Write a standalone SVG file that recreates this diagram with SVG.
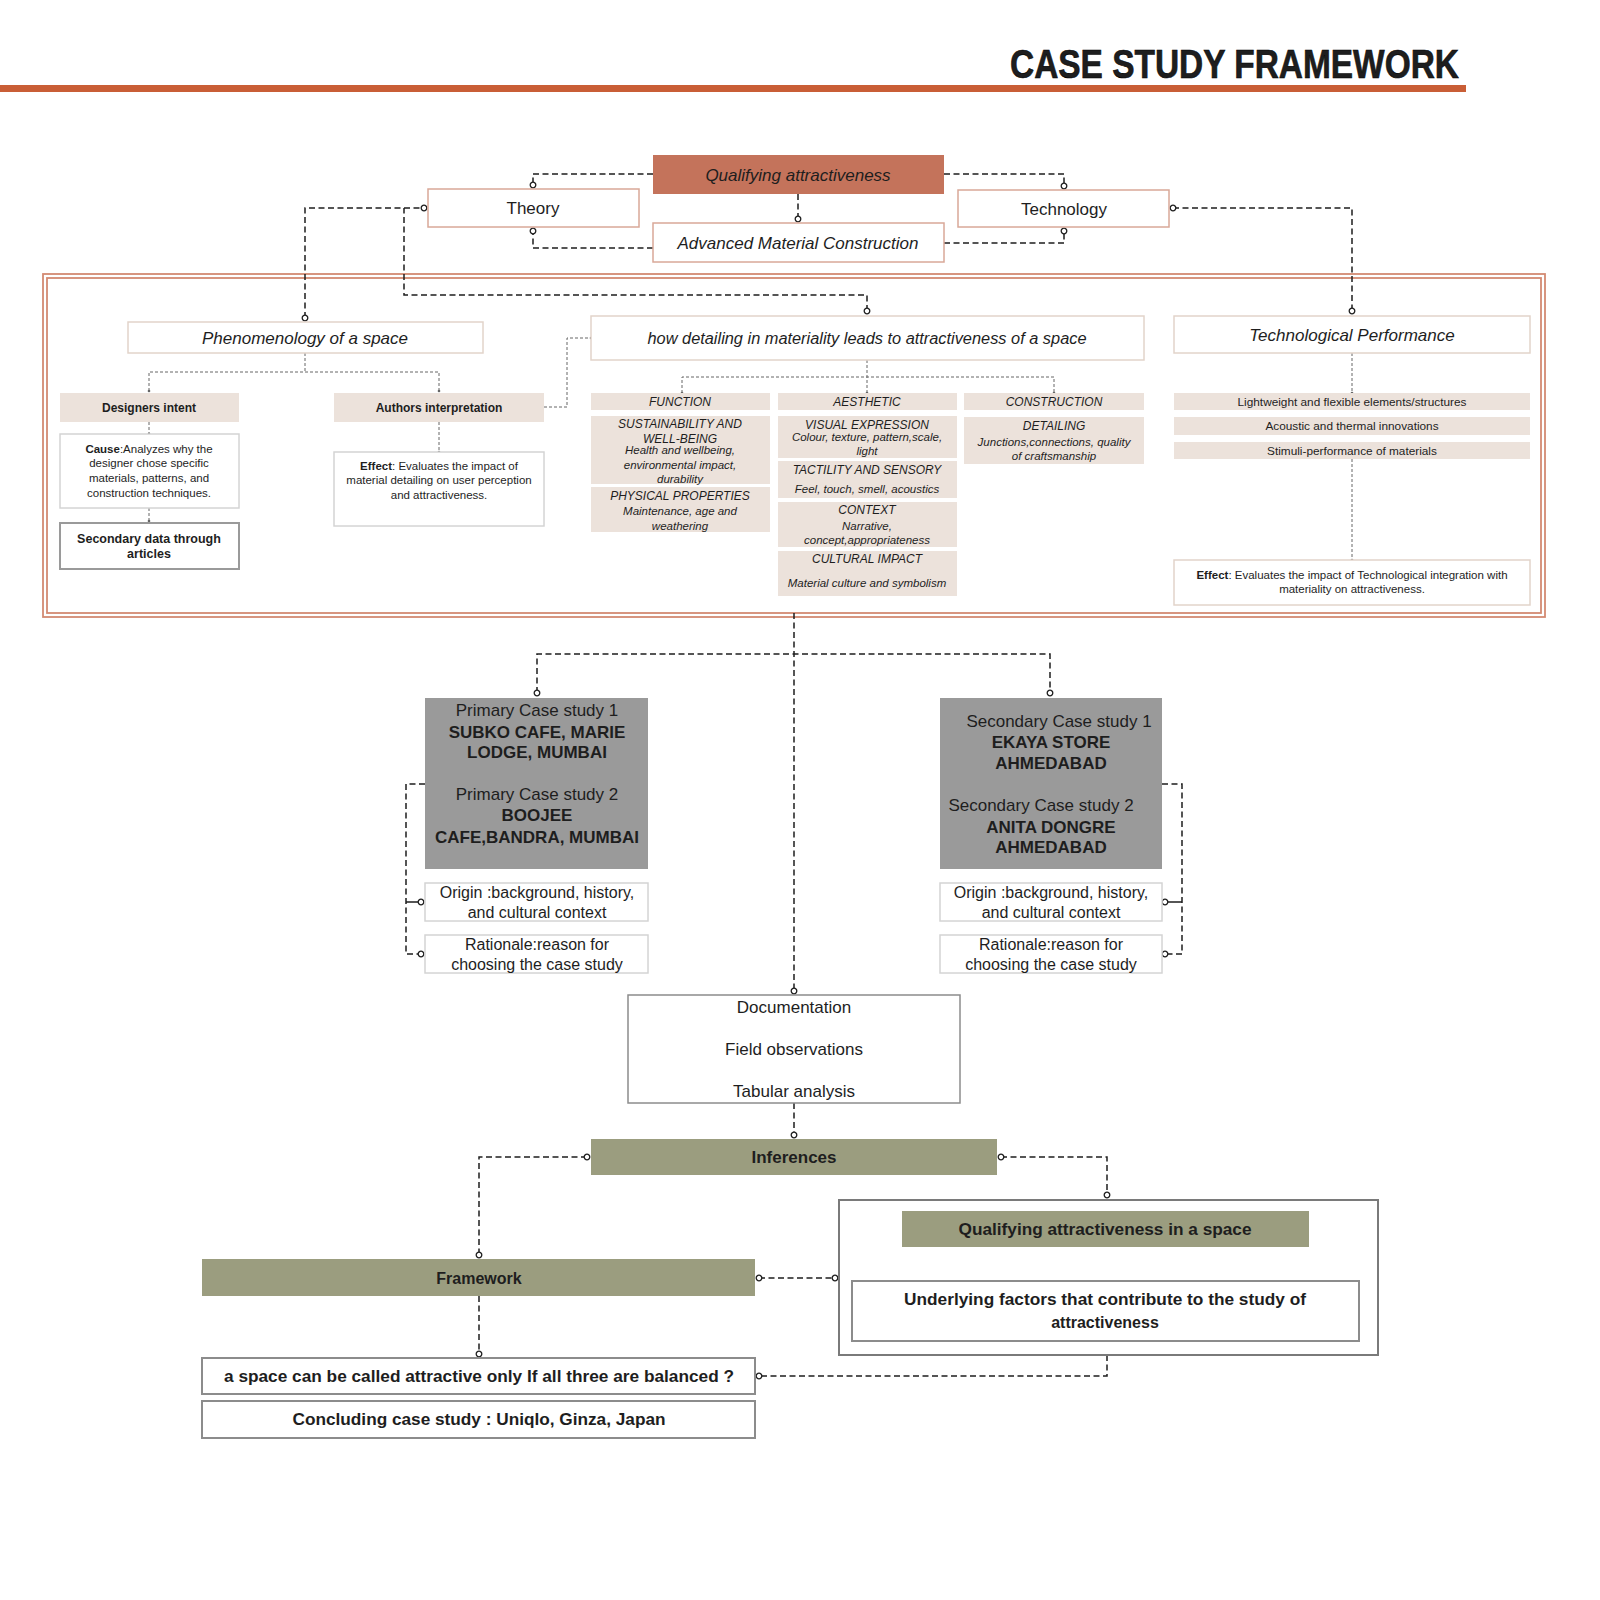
<svg xmlns="http://www.w3.org/2000/svg" width="1600" height="1600" viewBox="0 0 1600 1600">
<style>
text{font-family:"Liberation Sans",Arial,sans-serif;fill:#1e1e1e;text-anchor:middle}
.it{font-style:italic}
.b{font-weight:bold}
.f17{font-size:17px}
.f16{font-size:16px}
.f12{font-size:12px}
.f11{font-size:11.5px}
.box{fill:#fff;stroke:#d9a898;stroke-width:1.5}
.lbox{fill:#fff;stroke:#e2d4ca;stroke-width:1.5}
.gbox{fill:#fff;stroke:#d4d4d4;stroke-width:1.5}
.dbox{fill:#fff;stroke:#8c8c8c;stroke-width:2}
.beige{fill:#ece2db}
.olive{fill:#9b9d7f}
.grey{fill:#9a9a9a}
.frame{fill:none;stroke:#d38a72;stroke-width:1.8}
.dash{fill:none;stroke:#1e1e1e;stroke-width:1.5;stroke-dasharray:6 3.5}
.dot{fill:none;stroke:#666;stroke-width:1;stroke-dasharray:3 2}
.lgdash{fill:none;stroke:#999;stroke-width:1.3;stroke-dasharray:5 3}
.solid{fill:none;stroke:#1e1e1e;stroke-width:1.5}
</style>
<defs>
<marker id="o" viewBox="-4 -4 8 8" refX="0" refY="0" markerWidth="8" markerHeight="8" markerUnits="userSpaceOnUse">
<circle cx="0" cy="0" r="2.8" fill="#fff" stroke="#1e1e1e" stroke-width="1.3" stroke-dasharray="none"/>
</marker>
<marker id="og" viewBox="-4 -4 8 8" refX="0" refY="0" markerWidth="8" markerHeight="8" markerUnits="userSpaceOnUse">
<circle cx="0" cy="0" r="2.8" fill="#fff" stroke="#888" stroke-width="1.2" stroke-dasharray="none"/>
</marker>
<marker id="d" viewBox="-2 -2 4 4" refX="0" refY="0" markerWidth="4" markerHeight="4" markerUnits="userSpaceOnUse">
<circle cx="0" cy="0" r="1.3" fill="#666"/>
</marker>
</defs>

<g id="header">
<text x="1459" y="78" class="b" style="font-size:40px;text-anchor:end;stroke:#000;stroke-width:0.6" textLength="449" lengthAdjust="spacingAndGlyphs">CASE STUDY FRAMEWORK</text>
<rect x="0" y="85" width="1466" height="7" fill="#c95e36"/>
</g>

<g id="frame">
<rect class="frame" x="43" y="274" width="1502" height="343"/>
<rect class="frame" x="47" y="278" width="1494" height="335"/>
</g>

<g id="connectors">
<path class="dash" d="M653,174 H533 V185" marker-end="url(#o)"/>
<path class="dash" d="M944,174 H1064 V186" marker-end="url(#o)"/>
<path class="dash" d="M798,194 V219" marker-end="url(#o)"/>
<path class="dash" d="M653,248 H533 V231" marker-end="url(#o)"/>
<path class="dash" d="M944,243 H1064 V231" marker-end="url(#o)"/>
<path class="dash" d="M305,318 V208 H424" marker-start="url(#o)" marker-end="url(#o)"/>
<path class="dash" d="M867,311 V295 H404 V208" marker-start="url(#o)"/>
<path class="dash" d="M1173,208 H1352 V311" marker-start="url(#o)" marker-end="url(#o)"/>

<path class="dot" d="M305,353 V372"/>
<path class="dot" d="M149,391 V372 H439 V391" marker-start="url(#d)" marker-end="url(#d)"/>
<path class="dot" d="M149,422 V434" marker-end="url(#d)"/>
<path class="dot" d="M149,508 V521" marker-end="url(#d)"/>
<path class="dot" d="M439,422 V452" marker-end="url(#d)"/>
<path class="dot" d="M544,407 H567 V338 H591" marker-end="url(#d)"/>
<path class="dot" d="M867,360 V393" marker-end="url(#d)"/>
<path class="dot" d="M682,393 V377 H1054 V393" marker-start="url(#d)" marker-end="url(#d)"/>
<path class="dot" d="M1352,353 V393" marker-end="url(#d)"/>
<path class="dot" d="M1352,459 V560" marker-end="url(#d)"/>

<path class="dash" d="M794,613 V991" marker-end="url(#o)"/>
<path class="dash" d="M537,693 V654 H1050 V693" marker-start="url(#o)" marker-end="url(#o)"/>
<path class="dash" d="M425,784 H406 V954 H421" marker-end="url(#o)"/>
<path class="solid" d="M406,902 H421" marker-end="url(#o)"/>
<path class="dash" d="M1162,784 H1182 V954 H1165" marker-end="url(#o)"/>
<path class="solid" d="M1182,902 H1165" marker-end="url(#o)"/>
<path class="dash" d="M794,1103 V1135" marker-end="url(#o)"/>
<path class="dash" d="M587,1157 H479 V1255" marker-start="url(#o)" marker-end="url(#o)"/>
<path class="dash" d="M1001,1157 H1107 V1195" marker-start="url(#o)" marker-end="url(#o)"/>
<path class="lgdash" d="M1105,1247 V1276" marker-end="url(#og)"/>
<path class="dash" d="M759,1278 H835" marker-start="url(#o)" marker-end="url(#o)"/>
<path class="dash" d="M479,1296 V1354" marker-end="url(#o)"/>
<path class="dash" d="M1107,1355 V1376 H759" marker-end="url(#o)"/>
</g>

<g id="qualifying">
<rect x="653" y="155" width="291" height="39" fill="#c4735b"/>
<text x="798" y="180.5" class="it f17">Qualifying  attractiveness</text>
</g>
<g id="theory">
<rect class="box" x="428" y="189" width="211" height="38"/>
<text x="533" y="214" class="f17">Theory</text>
</g>
<g id="technology">
<rect class="box" x="958" y="190" width="211" height="37"/>
<text x="1064" y="214.5" class="f17">Technology</text>
</g>
<g id="amc">
<rect class="box" x="653" y="223" width="291" height="39"/>
<text x="798" y="248.5" class="it f17">Advanced Material Construction</text>
</g>

<g id="phenomenology">
<rect class="lbox" x="128" y="322" width="355" height="31"/>
<text x="305" y="343.5" class="it f17">Phenomenology of a space</text>
</g>
<g id="designers-intent">
<rect class="beige" x="60" y="393" width="179" height="29"/>
<text x="149" y="412" class="b f12">Designers intent</text>
</g>
<g id="authors-interpretation">
<rect class="beige" x="334" y="393" width="210" height="29"/>
<text x="439" y="412" class="b f12">Authors interpretation</text>
</g>
<g id="cause">
<rect class="gbox" x="60" y="434" width="179" height="74"/>
<text x="149" y="453" style="font-size:11.5px"><tspan class="b">Cause</tspan>:Analyzes why the</text>
<text x="149" y="467" style="font-size:11.5px">designer chose specific</text>
<text x="149" y="482" style="font-size:11.5px">materials, patterns, and</text>
<text x="149" y="497" style="font-size:11.5px">construction techniques.</text>
</g>
<g id="secondary-data">
<rect x="60" y="523" width="179" height="46" fill="#fff" stroke="#9a9a9a" stroke-width="2"/>
<text x="149" y="542.5" class="b" style="font-size:12.5px">Secondary data through</text>
<text x="149" y="557.5" class="b" style="font-size:12.5px">articles</text>
</g>
<g id="effect-authors">
<rect class="gbox" x="334" y="452" width="210" height="74"/>
<text x="439" y="470" style="font-size:11.5px"><tspan class="b">Effect</tspan>: Evaluates the impact of</text>
<text x="439" y="484" style="font-size:11.5px">material detailing on user perception</text>
<text x="439" y="499" style="font-size:11.5px">and attractiveness.</text>
</g>

<g id="detailing">
<rect class="lbox" x="591" y="316" width="553" height="44"/>
<text x="867" y="344" class="it f16" textLength="439" lengthAdjust="spacingAndGlyphs">how detailing in materiality  leads to attractiveness of a space</text>
</g>
<g id="function">
<rect class="beige" x="591" y="393" width="179" height="17"/>
<text x="680" y="406" class="it f12">FUNCTION</text>
</g>
<g id="aesthetic">
<rect class="beige" x="778" y="393" width="179" height="17"/>
<text x="867" y="406" class="it f12">AESTHETIC</text>
</g>
<g id="construction">
<rect class="beige" x="964" y="393" width="180" height="17"/>
<text x="1054" y="406" class="it f12">CONSTRUCTION</text>
</g>
<g id="sustainability">
<rect class="beige" x="591" y="416" width="179" height="68"/>
<text x="680" y="427.5" class="it f12">SUSTAINABILITY AND</text>
<text x="680" y="443" class="it f12">WELL-BEING</text>
<text x="680" y="454" class="it f11">Health and wellbeing,</text>
<text x="680" y="469" class="it f11">environmental impact,</text>
<text x="680" y="482.5" class="it f11">durability</text>
</g>
<g id="physical">
<rect class="beige" x="591" y="487" width="179" height="45"/>
<text x="680" y="500" class="it f12">PHYSICAL PROPERTIES</text>
<text x="680" y="515" class="it f11">Maintenance, age and</text>
<text x="680" y="529.5" class="it f11">weathering</text>
</g>
<g id="visual">
<rect class="beige" x="778" y="416" width="179" height="42"/>
<text x="867" y="428.5" class="it f12">VISUAL EXPRESSION</text>
<text x="867" y="441" class="it f11">Colour, texture, pattern,scale,</text>
<text x="867" y="455" class="it f11">light</text>
</g>
<g id="tactility">
<rect class="beige" x="778" y="461" width="179" height="37"/>
<text x="867" y="474" class="it f12">TACTILITY AND SENSORY</text>
<text x="867" y="493" class="it f11">Feel, touch, smell, acoustics</text>
</g>
<g id="context">
<rect class="beige" x="778" y="502" width="179" height="45"/>
<text x="867" y="514" class="it f12">CONTEXT</text>
<text x="867" y="529.5" class="it f11">Narrative,</text>
<text x="867" y="544" class="it f11">concept,appropriateness</text>
</g>
<g id="cultural">
<rect class="beige" x="778" y="551" width="179" height="45"/>
<text x="867" y="563" class="it f12">CULTURAL IMPACT</text>
<text x="867" y="586.5" class="it f11">Material culture and symbolism</text>
</g>
<g id="detailing-sub">
<rect class="beige" x="964" y="417" width="180" height="47"/>
<text x="1054" y="429.5" class="it f12">DETAILING</text>
<text x="1054" y="446" class="it f11">Junctions,connections, quality</text>
<text x="1054" y="460" class="it f11">of craftsmanship</text>
</g>

<g id="tech-performance">
<rect class="lbox" x="1174" y="316" width="356" height="37"/>
<text x="1352" y="340.5" class="it f17">Technological Performance</text>
</g>
<g id="lightweight">
<rect class="beige" x="1174" y="393" width="356" height="17"/>
<text x="1352" y="405.5" style="font-size:11.8px">Lightweight and flexible elements/structures</text>
</g>
<g id="acoustic">
<rect class="beige" x="1174" y="417" width="356" height="18"/>
<text x="1352" y="430" style="font-size:11.8px">Acoustic and thermal innovations</text>
</g>
<g id="stimuli">
<rect class="beige" x="1174" y="442" width="356" height="17"/>
<text x="1352" y="454.5" style="font-size:11.8px">Stimuli-performance of materials</text>
</g>
<g id="effect-tech">
<rect class="lbox" x="1174" y="560" width="356" height="45"/>
<text x="1352" y="578.5" style="font-size:11.5px"><tspan class="b">Effect</tspan>: Evaluates the impact of Technological integration with</text>
<text x="1352" y="593" style="font-size:11.5px">materiality on attractiveness.</text>
</g>

<g id="primary">
<rect class="grey" x="425" y="698" width="223" height="171"/>
<text x="537" y="716" class="f17">Primary Case study 1</text>
<text x="537" y="737.5" class="b f17">SUBKO CAFE, MARIE</text>
<text x="537" y="758" class="b f17">LODGE, MUMBAI</text>
<text x="537" y="800" class="f17">Primary Case study 2</text>
<text x="537" y="821" class="b f17">BOOJEE</text>
<text x="537" y="843" class="b f17">CAFE,BANDRA, MUMBAI</text>
</g>
<g id="secondary">
<rect class="grey" x="940" y="698" width="222" height="171"/>
<text x="1059" y="726.5" class="f17">Secondary Case study 1</text>
<text x="1051" y="748" class="b f17">EKAYA STORE</text>
<text x="1051" y="769" class="b f17">AHMEDABAD</text>
<text x="1041" y="811" class="f17">Secondary Case study 2</text>
<text x="1051" y="832.5" class="b f17">ANITA DONGRE</text>
<text x="1051" y="853" class="b f17">AHMEDABAD</text>
</g>
<g id="origin-left">
<rect class="gbox" x="425" y="883" width="223" height="38"/>
<text x="537" y="898" class="f16">Origin :background, history,</text>
<text x="537" y="918" class="f16">and cultural context</text>
</g>
<g id="rationale-left">
<rect class="gbox" x="425" y="935" width="223" height="38"/>
<text x="537" y="950" class="f16">Rationale:reason for</text>
<text x="537" y="970" class="f16">choosing the case study</text>
</g>
<g id="origin-right">
<rect class="gbox" x="940" y="883" width="222" height="38"/>
<text x="1051" y="898" class="f16">Origin :background, history,</text>
<text x="1051" y="918" class="f16">and cultural context</text>
</g>
<g id="rationale-right">
<rect class="gbox" x="940" y="935" width="222" height="38"/>
<text x="1051" y="950" class="f16">Rationale:reason for</text>
<text x="1051" y="970" class="f16">choosing the case study</text>
</g>

<g id="documentation">
<rect x="628" y="995" width="332" height="108" fill="#fff" stroke="#8c8c8c" stroke-width="1.5"/>
<text x="794" y="1013" class="f17">Documentation</text>
<text x="794" y="1055" class="f17">Field observations</text>
<text x="794" y="1097" class="f17">Tabular analysis</text>
</g>
<g id="inferences">
<rect class="olive" x="591" y="1139" width="406" height="36"/>
<text x="794" y="1163" class="b f17">Inferences</text>
</g>
<g id="outer-group">
<rect x="839" y="1200" width="539" height="155" fill="#fff" stroke="#7a7a7a" stroke-width="2"/>
</g>
<g id="qualifying-space">
<rect class="olive" x="902" y="1211" width="407" height="36"/>
<text x="1105" y="1235" class="b f16" textLength="293" lengthAdjust="spacingAndGlyphs">Qualifying attractiveness in a space</text>
</g>
<g id="underlying">
<rect class="dbox" x="852" y="1281" width="507" height="60"/>
<text x="1105" y="1305" class="b f16" textLength="402" lengthAdjust="spacingAndGlyphs">Underlying factors that contribute to the study of</text>
<text x="1105" y="1328" class="b f16">attractiveness</text>
</g>
<g id="framework">
<rect class="olive" x="202" y="1259" width="553" height="37"/>
<text x="479" y="1284" class="b f16">Framework</text>
</g>
<g id="question">
<rect class="dbox" x="202" y="1358" width="553" height="36"/>
<text x="479" y="1382" class="b f16" textLength="510" lengthAdjust="spacingAndGlyphs">a space can be called attractive only If all three are balanced ?</text>
</g>
<g id="concluding">
<rect class="dbox" x="202" y="1401" width="553" height="37"/>
<text x="479" y="1425" class="b f16" textLength="373" lengthAdjust="spacingAndGlyphs">Concluding case study : Uniqlo, Ginza, Japan</text>
</g>
</svg>
